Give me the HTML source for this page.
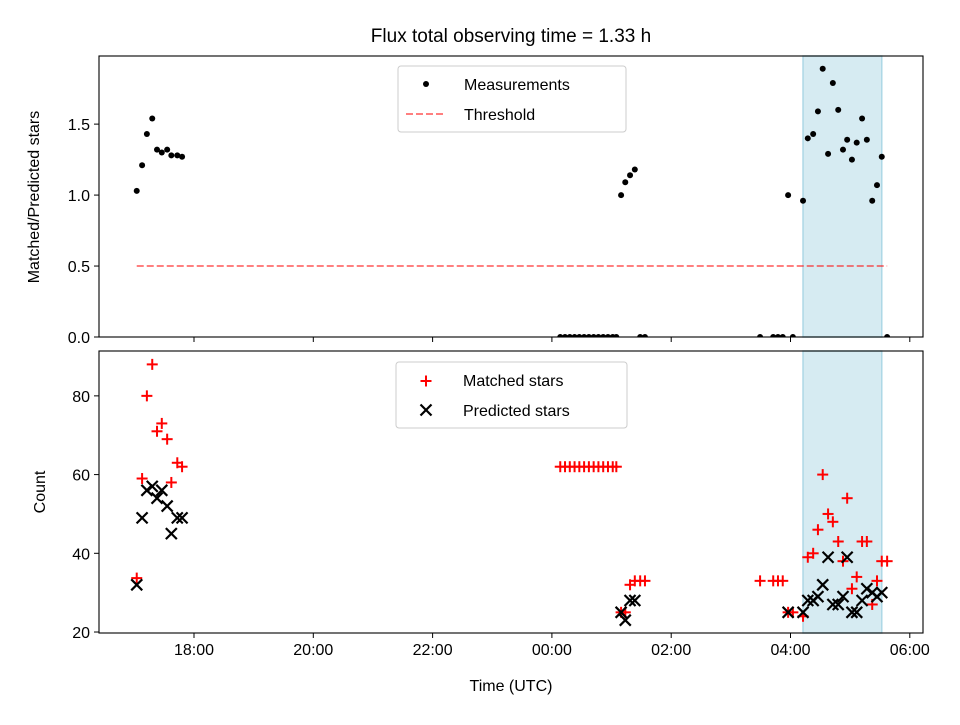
<!DOCTYPE html>
<html><head><meta charset="utf-8"><style>
body{margin:0;background:#fff;}
svg{font-family:"Liberation Sans","DejaVu Sans",sans-serif;}
</style></head><body>
<svg id="chart" width="960" height="720" viewBox="0 0 960 720" xmlns="http://www.w3.org/2000/svg">
<text x="511" y="42" text-anchor="middle" font-size="19">Flux total observing time = 1.33 h</text>
<g id="top"></g><g id="bot"></g>
</svg>
<script>
// Times in hours since 00:00 of the first day (values >24 are the next day)
const times = [17.04,17.13,17.21,17.30,17.38,17.46,17.55,17.62,17.72,17.80,
 24.14,24.22,24.30,24.38,24.46,24.54,24.62,24.70,24.78,24.86,24.94,25.02,25.08,
 25.16,25.23,25.31,25.39,25.48,25.56,
 27.49,27.71,27.79,27.87,27.96,28.04,28.21,28.29,28.38,28.46,28.54,28.63,28.71,28.80,28.88,28.95,29.03,29.11,29.20,29.28,29.37,29.45,29.53,29.62];
const matched = [33.7,59,80,88,71,73,69,58,63,62,
 62,62,62,62,62,62,62,62,62,62,62,62,62,
 25,25,32,33,33,33,
 33,33,33,33,25,25,24,39,40,46,60,50,48,43,38,54,31,34,43,43,27,33,38,38];
const predicted = [32,49,56,57,54,56,52,45,49,49,
 0,0,0,0,0,0,0,0,0,0,0,0,0,
 25,23,28,28,0,0,
 0,0,0,0,25,0,25,28,28,29,32,39,27,27,29,39,25,25,28,31,30,29,30,0];
const ratio = [1.03,1.21,1.43,1.54,1.32,1.30,1.32,1.28,1.28,1.27,
 0,0,0,0,0,0,0,0,0,0,0,0,0,
 1.00,1.09,1.14,1.18,0,0,
 0,0,0,0,1.00,0,0.96,1.40,1.43,1.59,1.89,1.29,1.79,1.60,1.32,1.39,1.25,1.37,1.54,1.39,0.96,1.07,1.27,0];
const threshold = 0.5;
const spanStart = 28.21, spanEnd = 29.53;
const xTicks = [18,20,22,24,26,28,30];
const xTickLabels = ["18:00","20:00","22:00","00:00","02:00","04:00","06:00"];
const topYTicks = [0,0.5,1.0,1.5];
const topYTickLabels = ["0.0","0.5","1.0","1.5"];
const botYTicks = [20,40,60,80];

const NS="http://www.w3.org/2000/svg";
const L=99,R=923;
function X(h){return 194+(h-18)*59.65;}
const T={top:56,bot:337,min:0,max:1.98};
const B={top:351,bot:633,min:19.75,max:91.4};
function Y(ax,v){return ax.bot-(v-ax.min)/(ax.max-ax.min)*(ax.bot-ax.top);}
function el(p,tag,a,txt){const e=document.createElementNS(NS,tag);for(const k in a)e.setAttribute(k,a[k]);if(txt!==undefined)e.textContent=txt;p.appendChild(e);return e;}

function axes(g,ax,name){
  const cid='clip-'+name;
  const cp=el(document.querySelector('svg'),'clipPath',{id:cid});
  el(cp,'rect',{x:L,y:ax.top,width:R-L,height:ax.bot-ax.top});
  const s=el(g,'rect',{x:X(spanStart),y:ax.top,width:X(spanEnd)-X(spanStart),height:ax.bot-ax.top,fill:'#add8e6','fill-opacity':0.5,stroke:'#add8e6','stroke-width':1.5});
  
  
  xTicks.forEach((t,i)=>{
    const tk=el(g,'line',{x1:X(t),x2:X(t),y1:ax.bot,y2:ax.bot+5,stroke:'#000','stroke-width':1});
    
    
    if(name==='bot'){
      const lb=el(g,'text',{x:X(t),y:ax.bot+22,'text-anchor':'middle','font-size':16},xTickLabels[i]);
      
      
    }
  });
  return cid;
}
function frame(g,ax){
  const f=el(g,'rect',{x:L,y:ax.top,width:R-L,height:ax.bot-ax.top,fill:'none',stroke:'#000','stroke-width':1.1});
  
  
}
function yTicks(g,ax,ticks,labels){
  ticks.forEach((t,i)=>{
    el(g,'line',{x1:L-5,x2:L,y1:Y(ax,t),y2:Y(ax,t),stroke:'#000'});
    const lb=el(g,'text',{x:L-9,y:Y(ax,t)+6,'text-anchor':'end','font-size':16},labels[i]);
    
    
  });
}
// TOP
const gt=document.getElementById('top');
const c1=axes(gt,T,'top');
const pg=el(gt,'g',{'clip-path':'url(#'+c1+')'});
const th=el(pg,'line',{x1:X(times[0]),x2:X(times[times.length-1]),y1:Y(T,threshold),y2:Y(T,threshold),stroke:'#ff0000','stroke-opacity':0.5,'stroke-width':2,'stroke-dasharray':'7,3'});


times.forEach((t,i)=>{
  const d=el(pg,'circle',{cx:X(t),cy:Y(T,ratio[i]),r:3,fill:'#000'});
  
  
});
frame(gt,T);
yTicks(gt,T,topYTicks,topYTickLabels);
const yl1=el(gt,'text',{x:39,y:197,'text-anchor':'middle','font-size':16,transform:'rotate(-90 39 197)'},'Matched/Predicted stars');


// legend top
const lg1=el(gt,'g',{});


el(lg1,'rect',{x:398,y:66,width:228,height:66,rx:3,fill:'#fff','fill-opacity':0.8,stroke:'#ccc'});
el(lg1,'circle',{cx:426,cy:84,r:3,fill:'#000'});
el(lg1,'text',{x:464,y:90,'font-size':16},'Measurements');
el(lg1,'line',{x1:406,x2:446,y1:114,y2:114,stroke:'#ff0000','stroke-opacity':0.5,'stroke-width':2,'stroke-dasharray':'7,3'});
el(lg1,'text',{x:464,y:120,'font-size':16},'Threshold');

// BOTTOM
const gb=document.getElementById('bot');
const c2=axes(gb,B,'bot');
const bg=el(gb,'g',{'clip-path':'url(#'+c2+')'});
function plus(p,x,y){const g=el(p,'g',{stroke:'#ff0000','stroke-width':2});el(g,'line',{x1:x-5.5,x2:x+5.5,y1:y,y2:y});el(g,'line',{x1:x,x2:x,y1:y-5.5,y2:y+5.5});return g;}
function cross(p,x,y){const g=el(p,'g',{stroke:'#000','stroke-width':2.2});el(g,'line',{x1:x-5.5,x2:x+5.5,y1:y-5.5,y2:y+5.5});el(g,'line',{x1:x-5.5,x2:x+5.5,y1:y+5.5,y2:y-5.5});return g;}
times.forEach((t,i)=>{
  const m=plus(bg,X(t),Y(B,matched[i]));
  
  
});
times.forEach((t,i)=>{
  const p=cross(bg,X(t),Y(B,predicted[i]));
  
  
});
frame(gb,B);
yTicks(gb,B,botYTicks,botYTicks.map(String));
const yl2=el(gb,'text',{x:45,y:492,'text-anchor':'middle','font-size':16,transform:'rotate(-90 45 492)'},'Count');


const xl=el(gb,'text',{x:511,y:691,'text-anchor':'middle','font-size':16},'Time (UTC)');


const lg2=el(gb,'g',{});


el(lg2,'rect',{x:396,y:362,width:231,height:66,rx:3,fill:'#fff','fill-opacity':0.8,stroke:'#ccc'});
plus(lg2,426,381);
el(lg2,'text',{x:463,y:386,'font-size':16},'Matched stars');
cross(lg2,426,410);
el(lg2,'text',{x:463,y:416,'font-size':16},'Predicted stars');
</script>
</body></html>
